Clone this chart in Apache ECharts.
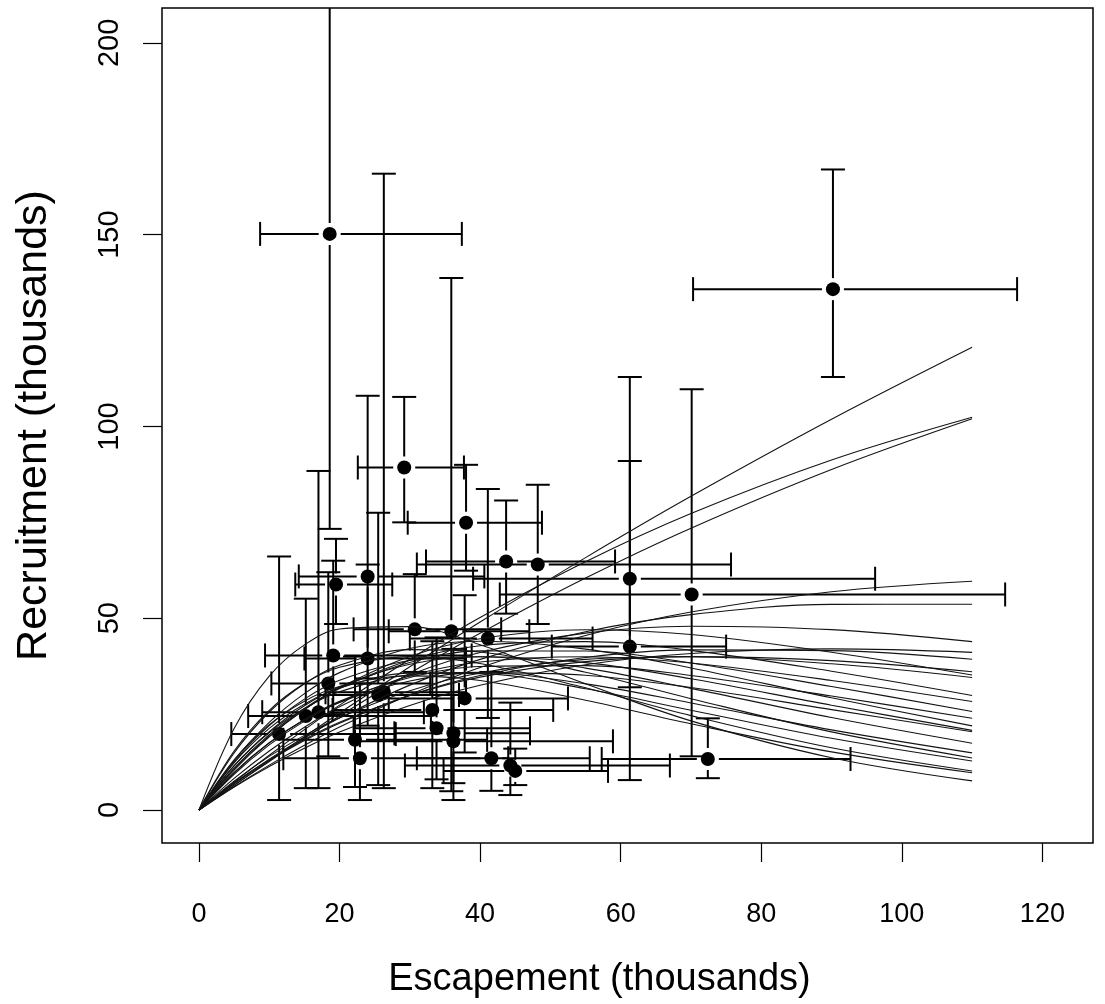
<!DOCTYPE html>
<html>
<head>
<meta charset="utf-8">
<script src="https://cdn.jsdelivr.net/npm/echarts@6/dist/echarts.min.js"></script>
<style>
  html, body { margin: 0; padding: 0; background: #fff; }
  #chart { width: 1105px; height: 1004px; }
</style>
</head>
<body>
<div id="chart"></div>
<script>
// Spawner escapement (thousands) with interval bounds
const escapement   = [18.6, 90.2, 29.2, 38.0, 43.7, 48.2, 61.3, 61.3, 70.1, 72.4, 19.5, 24.0, 30.7, 35.9, 41.1, 24.0, 37.8, 33.2, 33.8, 36.2, 36.2, 22.2, 22.9, 41.6, 44.3, 45.0, 19.1, 18.4, 11.4, 15.2, 17.0, 26.3, 25.5];
const escapementLo = [ 8.7, 70.3, 22.6, 29.7, 32.3, 31.0, 39.0, 50.2, 42.8, 57.3, 13.7, 14.2, 22.0, 27.0, 30.0, 15.0, 27.0, 19.0, 22.0, 27.8, 22.2, 12.0, 12.0, 31.0, 29.3, 34.8,  9.4, 10.3,  4.6,  7.0,  9.0, 18.0, 17.0];
const escapementHi = [37.4,116.4, 37.7, 48.8, 59.2, 75.7, 96.2, 75.0,114.7, 92.7, 27.5, 40.6, 43.0, 47.0, 56.0, 38.0, 52.5, 50.4, 47.1, 47.1, 58.9, 41.0, 44.0, 55.6, 67.0, 58.2, 38.8, 32.9, 28.0, 33.0, 32.0, 38.0, 37.0];
// Recruitment (thousands) with interval bounds
const recruitment   = [150.2, 135.8, 89.3, 74.9, 64.8, 64.0, 60.3, 42.6, 56.2, 13.3, 58.8, 60.9, 47.1, 46.6, 44.7, 39.5, 29.1, 26.1, 21.3, 20.0, 17.9, 18.3, 13.5, 13.5, 11.6, 10.2, 40.3, 33.0, 19.8, 24.5, 25.5, 30.7, 30.0];
const recruitmentLo = [ 73.3, 112.9, 75.0, 62.4, 51.2, 48.5, 32.0,  7.8, 14.0,  8.3, 48.5, 34.3, 36.0,  4.9, 24.0, 22.0, 15.0,  5.7,  8.0,  7.0,  2.6,  6.0,  2.6,  5.0,  3.9,  6.5, 25.0, 14.0,  2.6,  5.7,  5.7,  5.7,  6.5];
const recruitmentHi = [300.0, 167.0,107.7, 90.0, 80.7, 84.8,112.9, 91.0,109.7, 23.9, 70.7,108.0, 61.5,138.7, 83.7, 64.0, 56.0, 44.0, 45.0, 30.0, 42.0, 40.0, 33.0, 36.0, 28.0, 16.0, 65.0, 62.0, 66.1, 55.1, 88.4,165.9, 77.5];

// Stock-recruit curves: recruitment at each escapement level
const curveEscapement = [0, 5, 10, 15, 20, 30, 40, 55, 70, 90, 110];
const curve01 = [0, 6.47, 12.85, 19.12, 25.29, 37.34, 49.00, 65.80, 81.79, 101.88, 120.65];
const curve02 = [0, 7.29, 14.27, 20.95, 27.34, 39.30, 50.21, 64.75, 77.31, 91.26, 102.40];
const curve03 = [0, 6.42, 12.64, 18.67, 24.51, 35.65, 46.08, 60.47, 73.47, 88.78, 102.00];
const curve04 = [0, 6.08, 11.70, 16.88, 21.66, 30.08, 37.14, 45.51, 51.61, 56.89, 59.63];
const curve05 = [0, 6.97, 13.26, 18.91, 23.99, 32.56, 39.28, 46.48, 50.93, 53.61, 53.65];
const curve06 = [0, 8.24, 15.40, 21.59, 26.91, 35.27, 41.08, 46.13, 47.93, 47.03, 43.89];
const curve07 = [0, 6.00, 11.35, 16.11, 20.32, 27.27, 32.54, 37.87, 40.80, 42.00, 41.11];
const curve08 = [0, 6.86, 12.88, 18.12, 22.65, 29.89, 35.06, 39.78, 41.76, 41.55, 39.30];
const curve09 = [0, 7.04, 13.14, 18.39, 22.88, 29.86, 34.65, 38.68, 39.98, 38.94, 36.04];
const curve10 = [0, 10.43, 19.08, 26.17, 31.92, 40.05, 44.66, 46.98, 45.75, 41.14, 35.18];
const curve11 = [0, 7.53, 13.98, 19.46, 24.08, 31.11, 35.73, 39.27, 39.96, 38.12, 34.56];
const curve12 = [0, 10.63, 19.28, 26.22, 31.69, 39.07, 42.83, 43.89, 41.63, 36.17, 29.87];
const curve13 = [0, 9.33, 16.98, 23.18, 28.13, 34.93, 38.57, 39.95, 38.32, 33.78, 28.29];
const curve14 = [0, 10.92, 19.63, 26.48, 31.74, 38.48, 41.48, 41.44, 38.34, 32.20, 25.70];
const curve15 = [0, 9.70, 17.47, 23.62, 28.38, 34.56, 37.42, 37.64, 35.05, 29.71, 23.93];
const curve16 = [0, 12.91, 22.86, 30.35, 35.82, 42.10, 43.99, 41.94, 37.04, 29.25, 21.93];
const curve17 = [0, 11.49, 20.40, 27.17, 32.16, 38.02, 39.95, 38.43, 34.23, 27.33, 20.76];
const curve18 = [0, 9.83, 17.57, 23.55, 28.06, 33.62, 35.81, 35.15, 31.93, 26.18, 20.42];
const curve19 = [0, 12.54, 21.99, 28.92, 33.81, 38.97, 39.94, 37.00, 31.72, 24.10, 17.40];
const curve20 = [0, 11.55, 20.19, 26.45, 30.81, 35.27, 35.89, 32.89, 27.92, 20.90, 14.90];
const curve21 = [0, 14.86, 25.55, 32.94, 37.74, 41.81, 41.18, 35.94, 29.03, 20.37, 13.58];
const curve22 = [0, 12.30, 21.27, 27.59, 31.81, 35.68, 35.57, 31.62, 26.03, 18.71, 12.78];
const curve23 = [0, 15.34, 25.97, 32.97, 37.21, 40.00, 38.21, 31.87, 24.61, 16.24, 10.19];
const curve24 = [0, 13.06, 22.23, 28.38, 32.20, 34.98, 33.78, 28.63, 22.47, 15.15, 9.71];
const curve25 = [0, 21.25, 34.93, 43.06, 47.19, 47.82, 43.08, 32.90, 23.24, 13.64, 7.60];
const curves = [curve01, curve02, curve03, curve04, curve05, curve06, curve07, curve08, curve09, curve10,
                curve11, curve12, curve13, curve14, curve15, curve16, curve17, curve18, curve19, curve20,
                curve21, curve22, curve23, curve24, curve25];

// Axis ticks
const xTicks = [0, 20, 40, 60, 80, 100, 120];
const yTicks = [0, 50, 100, 150, 200];

const FONT = '"Liberation Sans", Arial, sans-serif';
const GAP = 11;   // blank space around each point on its interval lines
const CAP = 12;   // half-width of the interval end caps

const intervalData = escapement.map((s, i) => [s, recruitment[i], escapementLo[i], escapementHi[i], recruitmentLo[i], recruitmentHi[i]]);
const pointData = escapement.map((s, i) => [s, recruitment[i]]);

function renderInterval(params, api) {
  const x = api.value(0), y = api.value(1);
  const c = api.coord([x, y]);
  const xl = api.coord([api.value(2), y])[0];
  const xh = api.coord([api.value(3), y])[0];
  const yl = api.coord([x, api.value(4)])[1];
  const yh = api.coord([x, api.value(5)])[1];
  const style = { stroke: '#000', lineWidth: 2, fill: null };
  const kids = [];
  const seg = (x1, y1, x2, y2) => kids.push({ type: 'line', shape: { x1, y1, x2, y2 }, style });
  // vertical interval
  if (yh < c[1] - GAP) seg(c[0], c[1] - GAP, c[0], yh);
  if (yl > c[1] + GAP) seg(c[0], c[1] + GAP, c[0], yl);
  seg(c[0] - CAP, yh, c[0] + CAP, yh);
  seg(c[0] - CAP, yl, c[0] + CAP, yl);
  // horizontal interval
  if (xl < c[0] - GAP) seg(c[0] - GAP, c[1], xl, c[1]);
  if (xh > c[0] + GAP) seg(c[0] + GAP, c[1], xh, c[1]);
  seg(xl, c[1] - CAP, xl, c[1] + CAP);
  seg(xh, c[1] - CAP, xh, c[1] + CAP);
  return { type: 'group', children: kids };
}

const series = [
  {
    type: 'custom',
    renderItem: renderInterval,
    data: intervalData,
    clip: true,
    silent: true,
    z: 2
  },
  {
    type: 'scatter',
    data: pointData,
    symbol: 'circle',
    symbolSize: 14,
    itemStyle: { color: '#000', opacity: 1 },
    silent: true,
    z: 3
  }
];
curves.forEach(vals => {
  series.push({
    type: 'line',
    data: curveEscapement.map((s, i) => [s, vals[i]]),
    showSymbol: false,
    smooth: 0.35,
    lineStyle: { color: '#141414', width: 1.1 },
    silent: true,
    z: 4
  });
});

const chart = echarts.init(document.getElementById('chart'), null, { renderer: 'canvas' });
chart.setOption({
  animation: false,
  backgroundColor: '#fff',
  textStyle: { fontFamily: FONT },
  grid: {
    left: 162, right: 12, top: 8, bottom: 159,
    show: true, borderColor: '#000', borderWidth: 1.5, backgroundColor: 'transparent'
  },
  xAxis: {
    type: 'value',
    min: -5.26, max: 127.2,
    splitLine: { show: false },
    axisLine: { show: false, onZero: false },
    axisTick: { show: true, inside: false, length: 19, lineStyle: { color: '#000', width: 1.2 }, customValues: xTicks },
    axisLabel: { customValues: xTicks, color: '#000', fontSize: 27, margin: 58, fontFamily: FONT },
    name: 'Escapement (thousands)',
    nameLocation: 'middle',
    nameGap: 118,
    nameTextStyle: { color: '#000', fontSize: 38, fontFamily: FONT, padding: [0, 56, 0, 0] }
  },
  yAxis: {
    type: 'value',
    min: -8.6, max: 209.1,
    splitLine: { show: false },
    axisLine: { show: false, onZero: false },
    axisTick: { show: true, inside: false, length: 19, lineStyle: { color: '#000', width: 1.2 }, customValues: yTicks },
    axisLabel: { customValues: yTicks, color: '#000', fontSize: 29, margin: 38, rotate: 90, fontFamily: FONT },
    name: 'Recruitment (thousands)',
    nameLocation: 'middle',
    nameGap: 106,
    nameRotate: 90,
    nameTextStyle: { color: '#000', fontSize: 43, fontFamily: FONT }
  },
  series: series
});
</script>
</body>
</html>
